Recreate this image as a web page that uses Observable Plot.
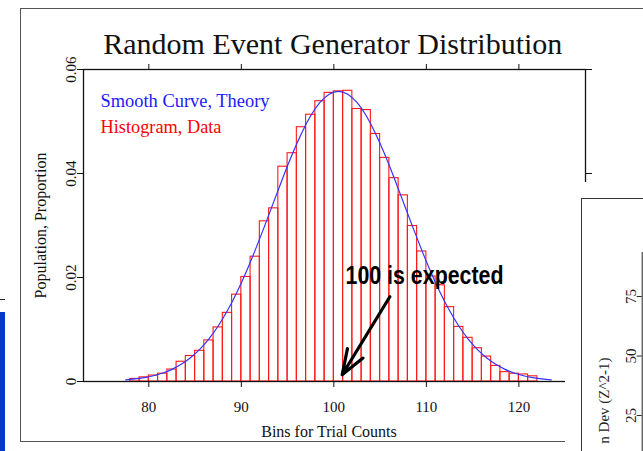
<!DOCTYPE html>
<html>
<head>
<meta charset="utf-8">
<script src="https://cdn.jsdelivr.net/npm/d3@7"></script>
<script src="https://cdn.jsdelivr.net/npm/@observablehq/plot@0.6"></script>
<style>
  html, body { margin: 0; padding: 0; background: #fff; }
  #page { position: relative; width: 643px; height: 451px; overflow: hidden; background: #fff; }
  #outer { position: absolute; left: 20px; top: 8px; width: 700px; height: 432px; border: 1.5px solid #555; }
  #main { position: absolute; left: 0; top: 0; width: 643px; height: 451px; }
  #side { position: absolute; left: 565px; top: 182px; width: 78px; height: 269px; background: #fff; overflow: hidden; }
  #sidebox { position: absolute; left: 16px; top: 16px; width: 200px; height: 300px; border-left: 1px solid #333; border-top: 1px solid #333; }
  #sideplot { position: absolute; left: 0; top: 0; width: 78px; height: 269px; }
  #leftblue { position: absolute; left: 0; top: 312px; width: 5px; height: 139px; background: #0a36d0; }
  #lefttick { position: absolute; left: 0; top: 299px; width: 5px; height: 1px; background: #222; }
  svg { max-width: none !important; }
</style>
</head>
<body>
<div id="page">
  <div id="outer"></div>
  <div id="leftblue"></div>
  <div id="lefttick"></div>
  <div id="main"></div>
  <div id="side"><div id="sidebox"></div><div id="sideplot"></div></div>
</div>
<script>
// ---- data ----
const titleText = "Random Event Generator Distribution";
const xLabel = "Bins for Trial Counts";
const yLabel = "Population, Proportion";
const legendTheory = "Smooth Curve, Theory";
const legendData = "Histogram, Data";

const xTicks = [80, 90, 100, 110, 120];
const yTicks = [0, 0.02, 0.04, 0.06];
const yTickLabels = ["0", "0.02", "0.04", "0.06"];

// histogram bins (left edge of each unit-wide bin) and observed proportions
const binStart = [78, 79, 80, 81, 82, 83, 84, 85, 86, 87, 88, 89, 90, 91, 92, 93, 94, 95, 96, 97, 98, 99,
                  100, 101, 102, 103, 104, 105, 106, 107, 108, 109, 110, 111, 112, 113, 114, 115, 116, 117, 118, 119, 120, 121];
const binProp = [0.0005, 0.0008, 0.00115, 0.0015, 0.0023, 0.0038, 0.0049, 0.0059, 0.0079, 0.0104, 0.0132, 0.0167,
                 0.0201, 0.0240, 0.0308, 0.0333, 0.0413, 0.0439, 0.0489, 0.0513, 0.0539, 0.0555,
                 0.0558, 0.0559, 0.0524, 0.0522, 0.0476, 0.0430, 0.0391, 0.0358, 0.0299, 0.0250,
                 0.0202, 0.0185, 0.0143, 0.0105, 0.0084, 0.0064, 0.0048, 0.0030, 0.0018, 0.0015, 0.00135, 0.0010];

// theory curve, read at bin centres
const curveX = [77.5, 78.5, 79.5, 80.5, 81.5, 82.5, 83.5, 84.5, 85.5, 86.5, 87.5, 88.5, 89.5, 90.5, 91.5, 92.5,
                93.5, 94.5, 95.5, 96.5, 97.5, 98.5, 99.5, 100.5, 101.5, 102.5, 103.5, 104.5, 105.5, 106.5, 107.5,
                108.5, 109.5, 110.5, 111.5, 112.5, 113.5, 114.5, 115.5, 116.5, 117.5, 118.5, 119.5, 120.5, 121.5, 122.5, 123.5];
const curveP = [0.00032, 0.00049, 0.00075, 0.00111, 0.00163, 0.00234, 0.00330, 0.00456, 0.00618, 0.00820, 0.01068,
                0.01364, 0.01708, 0.02097, 0.02526, 0.02983, 0.03455, 0.03924, 0.04369, 0.04771, 0.05110, 0.05366,
                0.05526, 0.05580, 0.05526, 0.05366, 0.05110, 0.04771, 0.04369, 0.03924, 0.03455, 0.02983, 0.02526,
                0.02097, 0.01708, 0.01364, 0.01068, 0.00820, 0.00618, 0.00456, 0.00330, 0.00234, 0.00163, 0.00111,
                0.00075, 0.00049, 0.00032];

// annotation
const noteText = ["100 is expected"];
const noteX = [109.8];
const noteY = [0.01875];
const arrowFromX = [106.05], arrowFromY = [0.0163];
const arrowToX = [100.9], arrowToY = [0.0013];

// neighbouring chart fragment (right edge)
const sideTicks = [25, 50, 75];
const sideLabel = "n Dev (Z^2-1)";

// ---- build ----
const bins = binStart.map((b, i) => ({lo: b, hi: b + 1, p: binProp[i]}));
const theory = curveX.map((x, i) => ({x, p: curveP[i]}));
const note = noteText.map((t, i) => ({t, x: noteX[i], y: noteY[i]}));
const arrows = arrowFromX.map((x, i) => ({x1: x, y1: arrowFromY[i], x2: arrowToX[i], y2: arrowToY[i]}));

const serif = '"Liberation Serif", "Times New Roman", Times, serif';

const chart = Plot.plot({
  width: 643,
  height: 451,
  marginLeft: 83,
  marginRight: 58,
  marginTop: 69,
  marginBottom: 70,
  style: {fontFamily: serif, fontSize: "15px", color: "#111", background: "transparent", overflow: "visible"},
  x: {domain: [72.94, 127.2]},
  y: {domain: [0, 0.06]},
  marks: [
    Plot.rect(bins, {x1: "lo", x2: "hi", y1: 0, y2: "p", fill: "none", stroke: "#ff1a1a", strokeWidth: 1.1}),
    Plot.line(theory, {x: "x", y: "p", stroke: "#3333ff", strokeWidth: 1.2, curve: "natural"}),
    Plot.frame({stroke: "#111", strokeWidth: 1.3}),
    Plot.axisX({ticks: xTicks, tickSize: 6, tickPadding: 14, label: null, fontSize: 15}),
    Plot.axisX({anchor: "top", ticks: xTicks, tickSize: 6, tickFormat: () => "", label: null}),
    Plot.axisY({ticks: yTicks, tickSize: 6, tickFormat: () => "", label: null}),
    Plot.axisY({anchor: "right", ticks: yTicks, tickSize: 6, tickFormat: () => "", label: null}),
    Plot.text(yTicks, {y: d => d, text: (d, i) => yTickLabels[i], frameAnchor: "left", dx: -7.5, rotate: -90,
                       lineAnchor: "bottom", textAnchor: "middle", fontSize: 15}),
    Plot.text([yLabel], {text: d => d, frameAnchor: "left", dx: -37.5, rotate: -90, lineAnchor: "bottom",
                         textAnchor: "middle", fontSize: 16}),
    Plot.text([xLabel], {text: d => d, frameAnchor: "bottom", dx: -5.5, dy: 55, lineAnchor: "bottom", fontSize: 16}),
    Plot.text([titleText], {text: d => d, frameAnchor: "top", dx: -1.7, dy: -16, lineAnchor: "bottom", fontSize: 30}),
    Plot.text([legendTheory], {text: d => d, frameAnchor: "top-left", dx: 17, dy: 37.5, lineAnchor: "bottom",
                               textAnchor: "start", fill: "#1a1aff", fontSize: 18}),
    Plot.text([legendData], {text: d => d, frameAnchor: "top-left", dx: 17, dy: 63.7, lineAnchor: "bottom",
                             textAnchor: "start", fill: "#ff0000", fontSize: 18}),
    Plot.arrow(arrows, {x1: "x1", y1: "y1", x2: "x2", y2: "y2", stroke: "#000", strokeWidth: 3.2,
                        headLength: 12.5, headAngle: 40}),
    Plot.text(note, {x: "x", y: "y", text: "t", lineAnchor: "bottom", textAnchor: "middle", fill: "#000",
                     fontFamily: '"Liberation Sans", Arial, Helvetica, sans-serif', fontWeight: "bold", fontSize: 25})
  ]
});
chart.style.position = "absolute";
chart.style.left = "0px";
chart.style.top = "0px";
chart.style.maxWidth = "none";
document.getElementById("main").appendChild(chart);

// condensed look of the annotation and the legend
chart.querySelectorAll("text").forEach(t => {
  if (t.textContent === noteText[0]) {
    t.setAttribute("textLength", "158");
    t.setAttribute("lengthAdjust", "spacingAndGlyphs");
  }
  if (t.textContent === legendTheory) {
    t.setAttribute("textLength", "169");
    t.setAttribute("lengthAdjust", "spacingAndGlyphs");
  }
  if (t.textContent === legendData) {
    t.setAttribute("textLength", "121");
    t.setAttribute("lengthAdjust", "spacingAndGlyphs");
  }
});

const side = Plot.plot({
  width: 78,
  height: 269,
  marginLeft: 76.7,
  marginRight: 1.3,
  marginTop: 70,
  marginBottom: 0,
  style: {fontFamily: serif, fontSize: "15px", color: "#222", background: "transparent", overflow: "visible"},
  y: {domain: [9.9, 93.5]},
  marks: [
    Plot.frame({anchor: "left", stroke: "#222"}),
    Plot.axisY({ticks: sideTicks, tickSize: 5, tickFormat: () => "", label: null}),
    Plot.text(sideTicks, {y: d => d, text: d => String(d), frameAnchor: "left", dx: -6, rotate: -90,
                          lineAnchor: "bottom", textAnchor: "middle", fontSize: 15}),
    Plot.text([sideLabel], {text: d => d, frameAnchor: "top-left", dx: -33.7, dy: 105, rotate: -90,
                            lineAnchor: "bottom", textAnchor: "end", fontSize: 15})
  ]
});
side.style.maxWidth = "none";
document.getElementById("sideplot").appendChild(side);
</script>
</body>
</html>
